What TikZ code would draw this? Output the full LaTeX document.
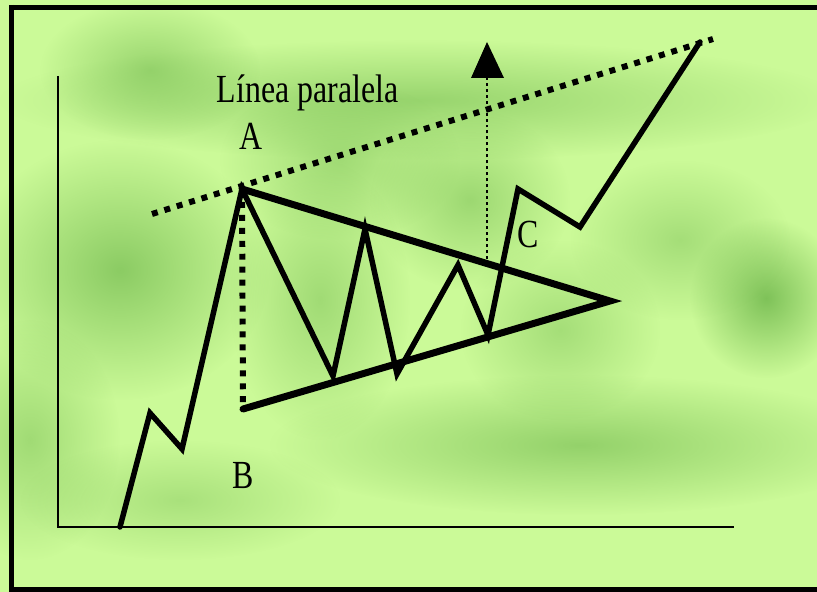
\documentclass[tikz,border=0pt]{standalone}
\usepackage{fontspec}
\setmainfont{Liberation Serif}
\usetikzlibrary{fadings}
\definecolor{bgg}{RGB}{203,250,152}
\definecolor{dkg}{RGB}{118,188,82}
\tikzfading[name=blob, inner color=transparent!0, outer color=transparent!100]
\tikzset{
  blotch/.style={fill=dkg, path fading=blob},
  price/.style={line width=5.5pt, line join=miter, line cap=round},
  trend/.style={line width=7pt, line cap=round},
  dotline/.style={line width=6pt, dash pattern=on 6pt off 7pt},
  guide/.style={line width=2pt, dash pattern=on 3pt off 3pt},
  axis/.style={line width=3pt},
  border/.style={line width=5pt},
  lbl/.style={font=\fontsize{40}{44}\selectfont, anchor=base, inner sep=0pt, xscale=0.8}
}
\begin{document}
\begin{tikzpicture}[x=1bp,y=-1bp]
\useasboundingbox (0,0) rectangle (817,592);
% background
\fill[bgg] (-8,-8) rectangle (830,600);
\fill[blotch, fill opacity=0.6] (420,100) ellipse (420 and 60);
\fill[blotch, fill opacity=0.6] (150,70) ellipse (110 and 70);
\fill[blotch, fill opacity=0.75] (120,270) ellipse (150 and 130);
\fill[blotch, fill opacity=0.5] (340,160) ellipse (120 and 80);
\fill[blotch, fill opacity=0.55] (470,200) ellipse (100 and 90);
\fill[blotch, fill opacity=0.5] (320,300) ellipse (90 and 140);
\fill[blotch, fill opacity=0.9] (766,298) ellipse (76 and 80);
\fill[blotch, fill opacity=0.65] (580,445) ellipse (310 and 70);
\fill[blotch, fill opacity=0.5] (30,440) ellipse (90 and 120);
\fill[blotch, fill opacity=0.45] (560,330) ellipse (100 and 90);
\fill[blotch, fill opacity=0.45] (680,240) ellipse (110 and 80);
\fill[blotch, fill opacity=0.4] (180,500) ellipse (160 and 60);
% frame: top, left and bottom sides only
\coordinate (fr0) at (9,7.5);
\coordinate (fr1) at (830,7.5);
\coordinate (fr2) at (11.5,5);
\coordinate (fr2b) at (11.5,592);
\coordinate (fr3) at (9,589.5);
\coordinate (fr4) at (830,589.5);
\draw[border] (fr0) -- (fr1);
\draw[border] (fr2) -- (fr2b);
\draw[border] (fr3) -- (fr4);
% axes
\coordinate (ytop) at (58,76);
\coordinate (orig) at (58,527);
\coordinate (xend) at (734,527);
\draw[axis] (ytop) -- (orig) -- (xend);
% key points
\coordinate (p0) at (120,527);
\coordinate (p1) at (150,413);
\coordinate (p2) at (182,449);
\coordinate (A) at (242,189);
\coordinate (p4) at (333,376);
\coordinate (p5) at (365,229);
\coordinate (p6) at (397,374);
\coordinate (p7) at (458,265);
\coordinate (p8) at (488,335);
\coordinate (p9) at (518,189);
\coordinate (p10) at (580,227);
\coordinate (p11) at (700,42);
\coordinate (apex) at (610,301);
\coordinate (Bl) at (243,409);
\coordinate (par0) at (152,214);
\coordinate (par1) at (713,39);
\coordinate (gbot) at (487,259);
\coordinate (gtop) at (487,78);
% dotted lines
\draw[dotline] (par0) -- (par1);
\draw[dotline] (A) -- (Bl);
% triangle
\draw[trend] (A) -- (apex) -- (Bl);
% price path
\draw[price] (p0) -- (p1) -- (p2) -- (A) -- (p4) -- (p5) -- (p6) -- (p7) -- (p8) -- (p9) -- (p10) -- (p11);
% target guide and arrow head
\draw[guide] (gbot) -- (gtop);
\fill (487,42) -- (504,78) -- (471,78) -- cycle;
% labels
\node[lbl] (tpar) at (307.5,103) {Línea paralela};
\node[lbl] (tA) at (251.5,150) {A};
\node[lbl] (tB) at (243,488) {B};
\node[lbl] (tC) at (528,247) {C};
\end{tikzpicture}
\end{document}
